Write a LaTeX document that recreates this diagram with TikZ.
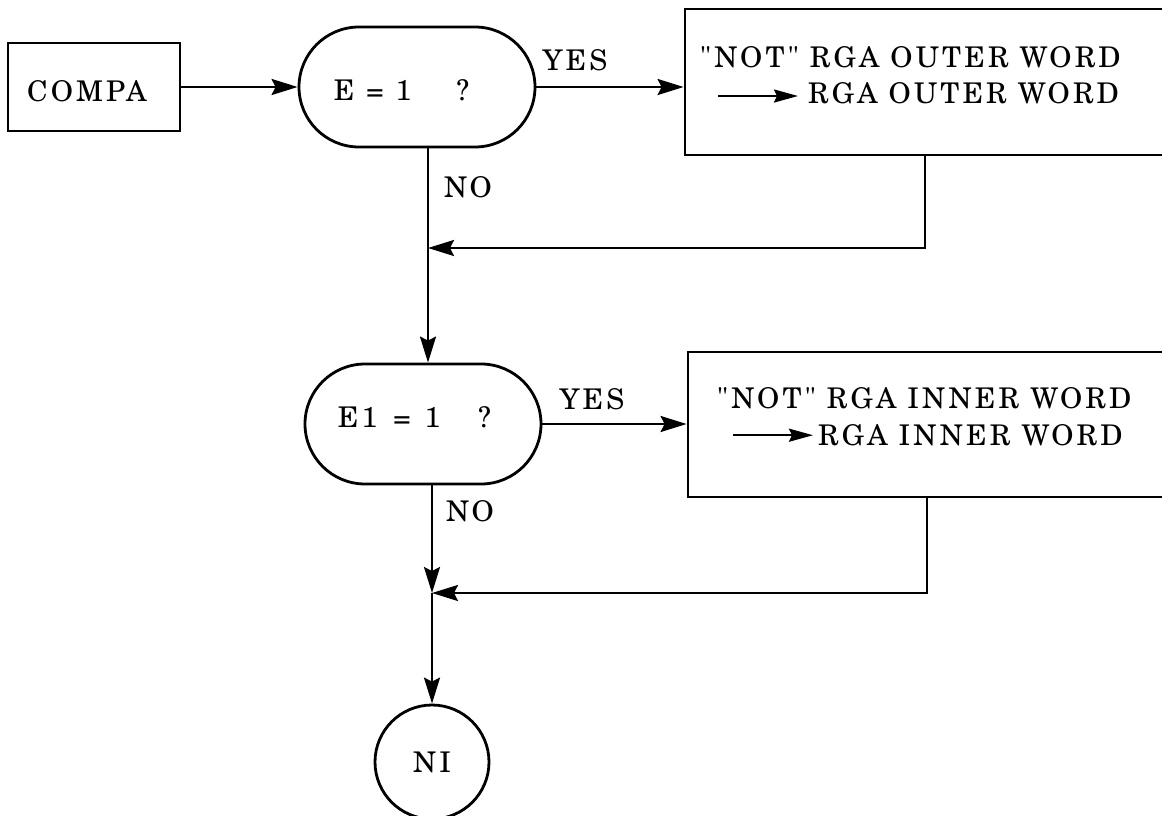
\documentclass[tikz,border=0pt]{standalone}
\usepackage{fontspec}
% Schoolbook face, letter-spaced, without TeX quote ligatures (keeps " straight)
\newfontfamily\chartfont{texgyreschola-regular.otf}[LetterSpace=11]
\usetikzlibrary{arrows.meta}
\begin{document}
\begin{tikzpicture}[x=1pt,y=-1pt,
  every node/.style={font={\fontsize{28.5pt}{34pt}\chartfont}, inner sep=0pt},
  shape line/.style={draw, line width=2.8pt},
  procbox/.style={shape line, rectangle},
  decision/.style={shape line, rectangle, rounded corners=60pt,
                   minimum width=236pt, minimum height=120pt},
  connector/.style={line width=2.4pt, -{Stealth[length=26pt,width=16pt,inset=4pt]}},
  textarrow/.style={line width=2.4pt, -{Stealth[length=24pt,width=13pt,inset=3pt]}},
]
\useasboundingbox (0,0) rectangle (1162,816);
\begin{scope}
\clip (0,0) rectangle (1162,816);

% entry block and first test
\node[procbox, minimum width=172pt, minimum height=88pt,
      text height=28pt, text depth=0pt] (compa) at (94,87) {COMPA\hspace*{14pt}};
\node[decision, text height=26pt, text depth=0pt] (dec1) at (417,87)
  {E\hspace{12pt}=\hspace{12pt}1\hspace{45pt}?\hspace*{31pt}};
\node[procbox, minimum width=515pt, minimum height=146pt] (box1) at (942.5,82) {};
\node[anchor=base west] (b1l1) at (700,67.5) {"NOT" RGA OUTER WORD};
\node[anchor=base west] (b1l2) at (808,103.5) {RGA OUTER WORD};
\draw[textarrow] ([xshift=-90pt,yshift=-2.8pt]b1l2.west) -- ([xshift=-10pt,yshift=-2.8pt]b1l2.west);
\node (yes1) at (575,60) {YES};
\node (no1) at (468,187) {NO};

% second test
\node[decision, text height=20pt, text depth=14pt] (dec2) at (423,424)
  {E1\hspace{16pt}=\hspace{14pt}1\hspace{38pt}?\hspace*{17pt}};
\node[procbox, minimum width=512pt, minimum height=145pt] (box2) at (944,424.5) {};
\node[anchor=base west] (b2l1) at (717,408) {"NOT" RGA INNER WORD};
\node[anchor=base west] (b2l2) at (818,445.5) {RGA INNER WORD};
\draw[textarrow] ([xshift=-85pt]b2l2.west) -- ([xshift=-5pt]b2l2.west);
\node (yes2) at (592,399) {YES};
\node (no2) at (470,511) {NO};

% exit
\node[circle, shape line, minimum size=114pt] (ni) at (432,762) {NI};

% junctions on the main line
\coordinate (j1) at (428,248);
\coordinate (r1) at (925,248);
\coordinate (j2) at (432,593);
\coordinate (r2) at (927,593);

% connectors
\draw[connector] (compa.east) -- (compa.east -| dec1.west);
\draw[connector] (dec1.east) -- (dec1.east -| box1.west);
\draw[connector] (dec1.south -| j1) -- (dec2.north -| j1);
\draw[connector] (box1.south -| r1) -- (r1) -- (j1);
\draw[connector] (dec2.east) -- (dec2.east -| box2.west);
\draw[connector] (dec2.south -| j2) -- (j2);
\draw[connector] (box2.south -| r2) -- (r2) -- (j2);
\draw[connector] (j2) -- (ni.north);
\end{scope}
\end{tikzpicture}
\end{document}
